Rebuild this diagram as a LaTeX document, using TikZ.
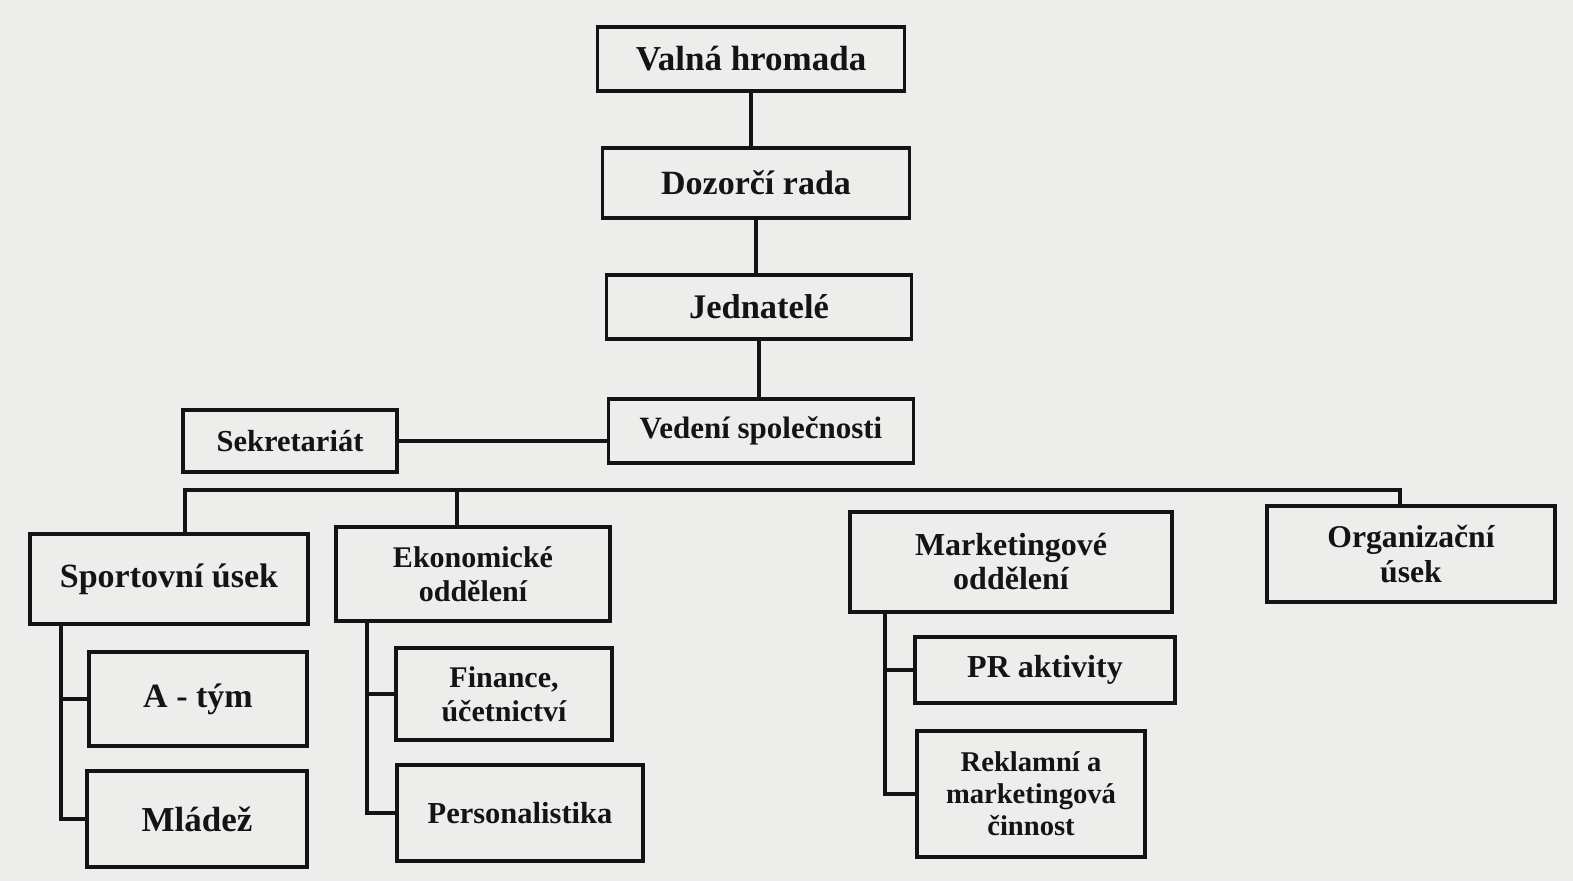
\documentclass[tikz,border=0pt]{standalone}
\usepackage{fontspec}
\setmainfont{Liberation Serif}
\definecolor{paper}{HTML}{EDEDEB}
\definecolor{ink}{HTML}{141414}
\tikzset{
  orgbox/.style={draw=ink, line width=3.5pt, rectangle, inner sep=0pt, align=center,
    text=ink, font=\fontsize{30}{34}\selectfont\bfseries},
  fs/.style={font=\fontsize{#1}{34}\selectfont\bfseries},
  link/.style={draw=ink, line width=3.5pt, line cap=rect},
}
\begin{document}
\begin{tikzpicture}[x=1pt,y=-1pt]
\fill[paper] (0,0) rectangle (1573,881);
\useasboundingbox (0,0) rectangle (1573,881);

\node[orgbox, fs=35, minimum width=307, minimum height=64] (valna) at (751,59) {Valná hromada};
\node[orgbox, fs=34, minimum width=307, minimum height=70] (dozor) at (756,183) {Dozorčí rada};
\node[orgbox, fs=34.5, minimum width=305, minimum height=64] (jedn) at (759,307) {Jednatelé};
\node[orgbox, fs=31, minimum width=305, minimum height=64] (ved) at (761,431) {Vedení společnosti};
\node[orgbox, fs=30.5, minimum width=214, minimum height=62] (sek) at (290,441) {Sekretariát};

\node[orgbox, fs=34, minimum width=278, minimum height=90] (sport) at (169,579) {Sportovní úsek};
\node[orgbox, fs=30, minimum width=274, minimum height=94] (eko) at (473,574) {Ekonomické\\oddělení};
\node[orgbox, fs=32, minimum width=322, minimum height=100] (mark) at (1011,562) {Marketingové\\oddělení};
\node[orgbox, font=\fontsize{31.7}{35}\selectfont\bfseries, minimum width=288, minimum height=96] (org) at (1411,554) {Organizační\\úsek};

\node[orgbox, fs=34, minimum width=218, minimum height=94] (atym) at (198,699) {A - tým};
\node[orgbox, fs=35, minimum width=220, minimum height=96] (mla) at (197,819) {Mládež};
\node[orgbox, fs=30, minimum width=216, minimum height=92] (fin) at (504,694) {Finance,\\účetnictví};
\node[orgbox, fs=30.5, minimum width=246, minimum height=96] (pers) at (520,813) {Personalistika};
\node[orgbox, fs=32, minimum width=260, minimum height=66] (pr) at (1045,670) {PR aktivity};
\node[orgbox, font=\fontsize{28.6}{32}\selectfont\bfseries, minimum width=228, minimum height=126] (rek) at (1031,794) {Reklamní a\\marketingová\\činnost};

% top chain
\draw[link] (valna.south) -- (valna.south |- dozor.north);
\draw[link] (dozor.south) -- (dozor.south |- jedn.north);
\draw[link] (jedn.south) -- (jedn.south |- ved.north);
\draw[link] (sek.east) -- (sek.east -| ved.west);

% bus
\coordinate (b1) at (185,490);
\coordinate (b2) at (457,490);
\coordinate (b3) at (1400,490);
\draw[link] (b1 |- sport.north) -- (b1) -- (b3) -- (b3 |- org.north);
\draw[link] (b2) -- (b2 |- eko.north);

% sport subtree
\coordinate (sx) at (61,0);
\draw[link] (sx |- sport.south) |- (mla.west);
\draw[link] (sx |- atym.west) -- (atym.west);

% eko subtree
\coordinate (ex) at (367,0);
\draw[link] (ex |- eko.south) |- (pers.west);
\draw[link] (ex |- fin.west) -- (fin.west);

% marketing subtree
\coordinate (mx) at (885,0);
\draw[link] (mx |- mark.south) |- (rek.west);
\draw[link] (mx |- pr.west) -- (pr.west);
\end{tikzpicture}
\end{document}
